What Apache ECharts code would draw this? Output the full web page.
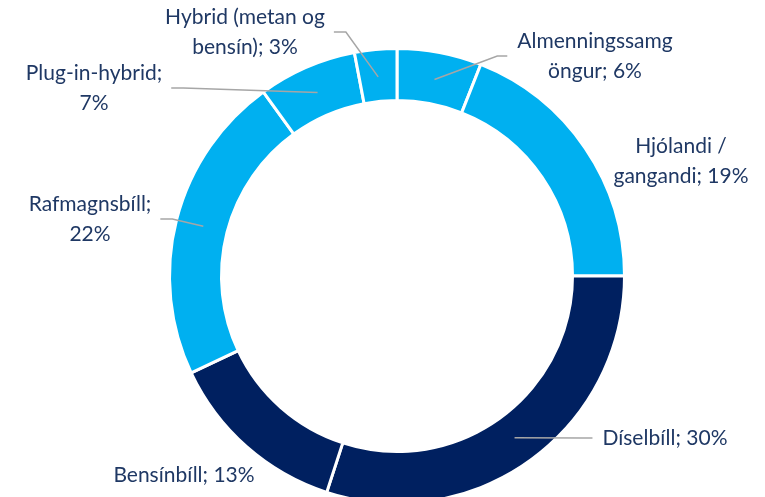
<!DOCTYPE html>
<html>
<head>
<meta charset="utf-8">
<script src="https://cdn.jsdelivr.net/npm/echarts@6/dist/echarts.min.js"></script>
<style>
html,body{margin:0;padding:0;background:#fff;}
#chart{width:765px;height:497px;}
</style>
</head>
<body>
<div id="chart"></div>
<script>
// Data
const categories = ['Almenningssamgöngur', 'Hjólandi / gangandi', 'Díselbíll', 'Bensínbíll', 'Rafmagnsbíll', 'Plug-in-hybrid', 'Hybrid (metan og bensín)'];
const values = [6, 19, 30, 13, 22, 7, 3];
const labelTemplates = ['Almenningssamg\nöngur; {v}%', 'Hjólandi /\ngangandi; {v}%', 'Díselbíll; {v}%', 'Bensínbíll; {v}%', 'Rafmagnsbíll;\n{v}%', 'Plug-in-hybrid;\n{v}%', 'Hybrid (metan og\nbensín); {v}%'];

// Styling / layout (not data)
const sliceColors = ['#00B0F0', '#00B0F0', '#002060', '#002060', '#00B0F0', '#00B0F0', '#00B0F0'];
const showLeader = [true, false, true, false, true, true, true];
const labelPos = [[595, 56], [681, 161], [665, 438], [184, 475], [90, 219], [94, 88], [245, 32]];
const CX = 397, CY = 276, R_IN = 175.5, R_OUT = 227.5, R_LEADER = 200;

const total = values.reduce((a, b) => a + b, 0);
function midAngle(i) {
  let before = 0;
  for (let k = 0; k < i; k++) before += values[k];
  return (before + values[i] / 2) / total * 2 * Math.PI; // clockwise from top
}

const chart = echarts.init(document.getElementById('chart'), null, {renderer: 'canvas'});
chart.setOption({
  backgroundColor: '#ffffff',
  animation: false,
  series: [{
    // the ring
    type: 'pie',
    z: 2,
    center: [CX, CY],
    radius: [R_IN, R_OUT],
    startAngle: 90,
    clockwise: true,
    silent: true,
    itemStyle: {borderColor: '#ffffff', borderWidth: 3},
    label: {show: false},
    labelLine: {show: false},
    data: categories.map((name, i) => ({
      name: name,
      value: values[i],
      itemStyle: {color: sliceColors[i]}
    }))
  }, {
    // transparent overlay carrying labels and leader lines above the ring
    type: 'pie',
    z: 5,
    center: [CX, CY],
    radius: [R_IN, R_OUT],
    startAngle: 90,
    clockwise: true,
    silent: true,
    avoidLabelOverlap: false,
    itemStyle: {color: 'rgba(0,0,0,0)', borderWidth: 0},
    label: {
      show: true,
      position: 'outside',
      color: '#1F3864',
      fontFamily: 'Lato',
      fontSize: 21,
      lineHeight: 30,
      align: 'center',
      formatter: p => labelTemplates[p.dataIndex].replace('{v}', p.value)
    },
    labelLine: {show: true, lineStyle: {color: '#A6A6A6', width: 1.5}},
    labelLayout: function (params) {
      const i = params.dataIndex;
      const [lx, ly] = labelPos[i];
      const w = params.labelRect.width;
      const a = midAngle(i);
      const sx = CX + R_LEADER * Math.sin(a);
      const sy = CY - R_LEADER * Math.cos(a);
      const leftOfStart = lx < sx;
      const ex = leftOfStart ? lx + w / 2 + 9 : lx - w / 2 - 10;
      const ey = ly;
      const bx = leftOfStart ? ex + 12 : ex - 10;
      return {
        x: lx, y: ly, align: 'center', verticalAlign: 'middle',
        labelLinePoints: [[sx, sy], [bx, ey], [ex, ey]]
      };
    },
    data: categories.map((name, i) => ({
      name: name,
      value: values[i],
      labelLine: {show: showLeader[i]}
    }))
  }]
});
</script>
</body>
</html>
